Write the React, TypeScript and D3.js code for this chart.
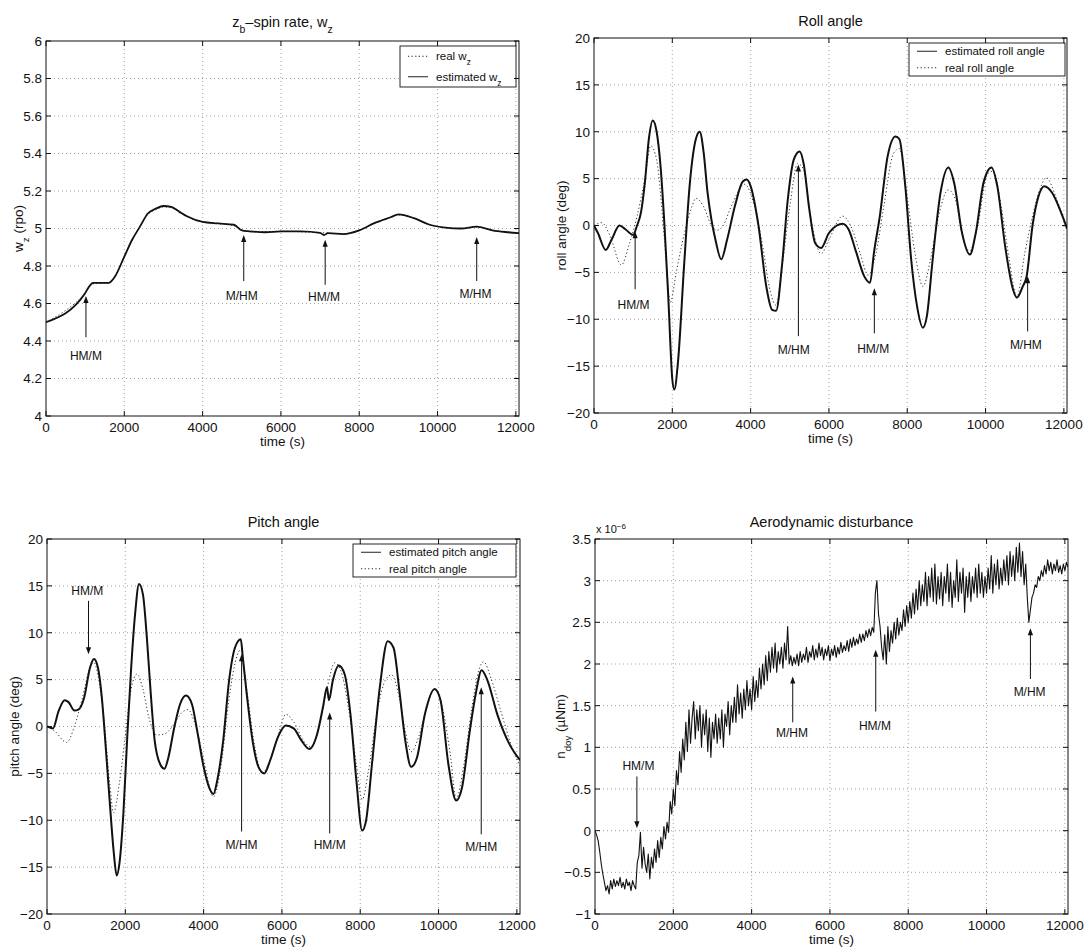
import React from "react";
import * as d3 from "d3";

// ---- data ----
const xTickVals = [0, 2000, 4000, 6000, 8000, 10000, 12000];
const XMAX = 12080;

// z_b spin rate (rpo)
const wzEstT = [0, 1000, 1100, 1200, 1600, 1750, 2000, 2200, 2400, 2600, 2800, 3000, 3200, 3400, 3600, 4000, 4400, 4800, 5000, 5200, 5600, 6000, 6500, 7000, 7100, 7200, 7600, 8000, 8400, 8800, 9000, 9400, 9800, 10200, 10600, 11000, 11400, 11800, 12080];
const wzEst = [4.50, 4.655, 4.69, 4.71, 4.71, 4.74, 4.85, 4.94, 5.01, 5.08, 5.105, 5.12, 5.115, 5.09, 5.065, 5.035, 5.027, 5.02, 4.99, 4.985, 4.98, 4.985, 4.985, 4.977, 4.965, 4.975, 4.97, 4.99, 5.03, 5.06, 5.075, 5.055, 5.02, 5.005, 5.0, 5.01, 4.99, 4.98, 4.975];
const wzRealT = [0, 1000, 1200, 1600, 1800, 2000, 2200, 2400, 2600, 2800, 3000, 3200, 3400, 3600, 4000, 4400, 4800, 5000, 5300, 6000, 7000, 7600, 8000, 8400, 8800, 9000, 9400, 9800, 10200, 10600, 11000, 11400, 11800, 12080];
const wzReal = [4.50, 4.655, 4.705, 4.71, 4.76, 4.85, 4.94, 5.01, 5.075, 5.10, 5.115, 5.11, 5.09, 5.065, 5.035, 5.027, 5.015, 4.992, 4.982, 4.985, 4.978, 4.972, 4.99, 5.03, 5.06, 5.072, 5.055, 5.02, 5.005, 5.0, 5.008, 4.99, 4.98, 4.975];
const wzTicks = [4, 4.2, 4.4, 4.6, 4.8, 5, 5.2, 5.4, 5.6, 5.8, 6];

// roll angle (deg)
const rollT = [0, 100, 300, 450, 650, 800, 1000, 1100, 1200, 1300, 1400, 1500, 1600, 1700, 1800, 1900, 2000, 2050, 2150, 2300, 2450, 2600, 2700, 2800, 2900, 3000, 3100, 3250, 3400, 3600, 3800, 3900, 4000, 4200, 4400, 4550, 4650, 4800, 4950, 5100, 5250, 5350, 5500, 5650, 5800, 6000, 6200, 6350, 6500, 6700, 6900, 7050, 7150, 7300, 7500, 7700, 7800, 7950, 8100, 8250, 8400, 8500, 8650, 8850, 9050, 9200, 9400, 9600, 9750, 9950, 10150, 10300, 10500, 10700, 10800, 10950, 11050, 11200, 11350, 11500, 11700, 11900, 12080];
const rollEst = [0, -0.8, -2.6, -1.5, 0, -0.4, -1.0, 0, 1.4, 4.6, 9.2, 11.2, 10, 6.3, 0, -7.9, -16.4, -17.5, -14.3, -4.3, 4.6, 9.2, 10, 7.8, 3.5, 0.6, -1.5, -3.6, -1.5, 2.1, 4.7, 4.9, 4.2, 0, -6.5, -9.0, -9.1, -4.3, 2.8, 7, 7.9, 6.7, 1.7, -1.9, -2.4, -0.8, 0, 0.2, -0.4, -2.9, -5.4, -6.1, -2.9, 1.0, 7.4, 9.5, 9.2, 4.2, -3.6, -8.6, -10.9, -9.7, -3.6, 3.5, 6.2, 4.5, -0.8, -3.1, -0.8, 4.6, 6.2, 4.2, -2.2, -6.8, -7.7, -6.5, -5.4, 0, 3.1, 4.2, 3.5, 1.7, -0.3];
const rollRealT = [0, 200, 400, 700, 900, 1100, 1300, 1450, 1600, 1800, 1950, 2100, 2300, 2500, 2600, 2800, 3000, 3150, 3300, 3500, 3850, 4100, 4300, 4500, 4650, 4800, 5000, 5200, 5350, 5550, 5800, 6000, 6350, 6550, 6800, 7000, 7200, 7400, 7650, 7800, 8000, 8200, 8400, 8600, 8800, 9050, 9250, 9400, 9600, 9800, 10050, 10200, 10400, 10600, 10800, 11000, 11200, 11400, 11550, 11800, 12080];
const rollReal = [0, 0.3, -1, -4.2, -2, 1, 5, 8.5, 7, -1.5, -8.2, -5, -1, 2, 2.9, 2, 0, -0.5, 0, 2, 4.4, 2, -2, -7, -8.5, -4.5, 2, 6.6, 6, 0.5, -3.0, -1.5, 1.0, 0, -3, -5.3, -3, 2, 7.7, 8.2, 3, -3, -6.5, -3.5, 1, 3.8, 2.5, -1, -2.7, 0, 5.5, 5.8, 2, -3.5, -7.6, -3, 1, 4, 5.1, 3, -0.5];
const angleTicks = [-20, -15, -10, -5, 0, 5, 10, 15, 20];

// pitch angle (deg)
const pitchT = [0, 150, 300, 450, 550, 700, 800, 950, 1100, 1200, 1300, 1400, 1500, 1600, 1700, 1780, 1850, 1950, 2050, 2150, 2250, 2350, 2450, 2550, 2650, 2750, 2900, 3000, 3100, 3250, 3400, 3550, 3700, 3850, 4000, 4150, 4250, 4350, 4500, 4650, 4800, 4950, 5000, 5100, 5250, 5400, 5550, 5700, 5900, 6100, 6300, 6500, 6700, 6900, 7050, 7150, 7200, 7300, 7450, 7600, 7750, 7900, 8050, 8150, 8300, 8500, 8700, 8850, 9000, 9150, 9300, 9450, 9650, 9900, 10050, 10250, 10450, 10600, 10800, 10950, 11100, 11250, 11500, 11800, 12080];
const pitchEst = [0, -0.2, 1.7, 2.8, 2.6, 1.7, 1.8, 3.1, 6.3, 7.2, 6.3, 3.1, -2.2, -7.9, -13.2, -15.9, -14.6, -9.3, -1.1, 6.3, 12, 15.2, 14.1, 9.5, 3.5, -1.5, -4.1, -4.5, -3.3, -0.1, 2.4, 3.3, 2.4, -0.8, -4.3, -6.6, -7.2, -5.7, -1.5, 4.9, 8.4, 9.3, 7.4, 3.5, -1.5, -4.3, -5, -3.6, -1.1, 0.1, -0.2, -1.5, -2.4, -0.8, 2.1, 4.2, 2.8, 4.9, 6.5, 5.6, 1.3, -5.7, -11.1, -10, -4, 4.2, 9.1, 8.4, 3.8, -1.5, -4.3, -3.3, 1.3, 4, 2.8, -4, -7.9, -6.5, -0.4, 3.5, 6, 4.9, 1.3, -1.8, -3.6];
const pitchRealT = [0, 200, 500, 700, 900, 1100, 1200, 1300, 1450, 1600, 1700, 1850, 2000, 2150, 2300, 2450, 2600, 2800, 3000, 3200, 3450, 3600, 3800, 4000, 4250, 4450, 4650, 4850, 4950, 5100, 5300, 5500, 5700, 5900, 6100, 6300, 6550, 6750, 6950, 7150, 7350, 7500, 7700, 7900, 8050, 8200, 8450, 8650, 8800, 9000, 9150, 9300, 9500, 9700, 9900, 10100, 10300, 10450, 10650, 10850, 11050, 11150, 11350, 11600, 11900, 12080];
const pitchReal = [0, -0.5, -1.7, 0, 3, 6.3, 6.8, 5.5, 1, -6, -9.2, -6, -1, 4, 5.6, 4, 1, -0.9, -0.8, 0, 1.5, 1.8, 0, -3.5, -7.5, -4, 3, 7.5, 8.2, 4, -2, -5, -3.5, -1, 1.3, 0.5, -1.5, -2.2, 0, 4, 6.8, 6, 2, -4, -7.8, -5, 2, 5, 5.5, 3, -0.5, -2.7, -1, 2, 4, 2, -3, -7.7, -4, 2, 6.3, 6.9, 5, 1.5, -2.5, -4.2];

// aerodynamic disturbance (x 1e-6 Nm), sampled every 40 s
const AERO_STEP = 40;
const aeroVals = [
  0.00, -0.05, -0.12, -0.25, -0.40, -0.52, -0.62, -0.72, -0.66, -0.76,
  -0.60, -0.70, -0.58, -0.67, -0.60, -0.66, -0.56, -0.68, -0.62, -0.70,
  -0.58, -0.66, -0.62, -0.72, -0.60, -0.66, -0.70, -0.38, -0.30, -0.02,
  -0.45, -0.20, -0.40, -0.50, -0.28, -0.58, -0.32, -0.45, -0.22, -0.38,
  -0.12, -0.32, -0.08, -0.22, 0.05, -0.10, 0.10, -0.02, 0.35, 0.20,
  0.50, 0.30, 0.72, 0.55, 0.95, 0.70, 1.10, 0.85, 1.30, 0.95,
  1.45, 1.05, 1.35, 1.55, 1.10, 1.45, 1.20, 1.50, 1.00, 1.40,
  1.15, 1.45, 0.95, 1.35, 0.88, 1.30, 1.10, 1.40, 1.05, 1.35,
  1.10, 1.45, 1.00, 1.40, 1.25, 1.55, 1.15, 1.50, 1.30, 1.60,
  1.30, 1.75, 1.40, 1.65, 1.35, 1.70, 1.45, 1.80, 1.50, 1.70,
  1.45, 1.85, 1.55, 1.80, 1.60, 1.95, 1.70, 2.00, 1.75, 2.10,
  1.80, 2.15, 1.90, 2.20, 1.95, 2.25, 1.90, 2.15, 2.00, 2.20,
  1.95, 2.25, 2.05, 2.45, 2.00, 2.10, 1.98, 2.08, 2.00, 2.12,
  1.98, 2.15, 2.02, 2.12, 2.05, 2.20, 2.02, 2.15, 2.08, 2.22,
  2.05, 2.18, 2.08, 2.25, 2.10, 2.20, 2.05, 2.18, 2.10, 2.22,
  2.04, 2.18, 2.10, 2.22, 2.08, 2.20, 2.12, 2.26, 2.14, 2.22,
  2.16, 2.28, 2.15, 2.30, 2.20, 2.32, 2.22, 2.30, 2.24, 2.36,
  2.26, 2.36, 2.28, 2.40, 2.32, 2.42, 2.34, 2.44, 2.38, 2.85,
  3.00, 2.60, 2.45, 2.20, 2.05, 2.35, 2.00, 2.45, 2.15, 2.40,
  2.25, 2.50, 2.30, 2.55, 2.35, 2.50, 2.40, 2.65, 2.45, 2.70,
  2.50, 2.75, 2.55, 2.85, 2.60, 2.90, 2.65, 3.00, 2.70, 2.95,
  2.75, 3.10, 2.70, 3.05, 2.80, 3.15, 2.75, 3.20, 2.72, 3.05,
  2.78, 3.10, 2.70, 3.05, 2.85, 3.20, 2.75, 3.10, 2.68, 3.00,
  2.80, 3.25, 2.75, 3.10, 2.85, 3.15, 2.62, 3.05, 2.80, 3.10,
  2.75, 3.05, 2.85, 3.15, 2.80, 3.20, 2.85, 3.10, 2.80, 3.05,
  2.85, 3.15, 2.90, 3.30, 2.85, 3.20, 2.95, 3.25, 2.90, 3.15,
  2.95, 3.25, 3.00, 3.30, 2.95, 3.35, 3.05, 3.30, 3.00, 3.40,
  3.10, 3.45, 3.05, 3.35, 2.95, 3.20, 2.80, 2.50, 2.65, 2.80,
  2.85, 2.95, 2.92, 3.05, 3.00, 3.12, 3.05, 3.18, 3.08, 3.25,
  3.12, 3.22, 3.08, 3.20, 3.12, 3.25, 3.10, 3.18, 3.08, 3.20,
  3.12, 3.22, 3.16,
];
const aeroT = aeroVals.map((_, i) => i * AERO_STEP);
const aeroTicks = [-1, -0.5, 0, 0.5, 1, 1.5, 2, 2.5, 3, 3.5];

// ---- drawing ----
const FONT = "'Liberation Sans', Arial, Helvetica, sans-serif";
const fmt = d3.format("~g");

type Series = { t: number[]; v: number[]; dotted?: boolean; width?: number; linear?: boolean };
type Arrow = { x: number; from: number; to: number; label: string; ly: number; lx?: number };
type Legend = { x0: number; y0: number; x1: number; y1: number; rows: { dotted: boolean; label: React.ReactNode }[] };

type PanelProps = {
  id: string;
  box: [number, number, number, number];
  yDomain: [number, number];
  yTicks: number[];
  title: React.ReactNode;
  titleDy?: number;
  ylabel: React.ReactNode;
  ylabelX: number;
  series: Series[];
  arrows: Arrow[];
  legend?: Legend;
  exponent?: boolean;
};

const Panel = (p: PanelProps) => {
  const [x0, y0, x1, y1] = p.box;
  const x = d3.scaleLinear().domain([0, XMAX]).range([x0, x1]);
  const y = d3.scaleLinear().domain(p.yDomain).range([y1, y0]);
  const tk = 5;

  return (
    <g fontFamily={FONT}>
      <defs>
        <clipPath id={`clip-${p.id}`}>
          <rect x={x0} y={y0} width={x1 - x0} height={y1 - y0} />
        </clipPath>
      </defs>

      {/* grid */}
      <g stroke="#8a8a8a" strokeWidth={0.8} strokeDasharray="1,3">
        {xTickVals.filter(d => d > 0).map(d => (
          <line key={"gx" + d} x1={x(d)} x2={x(d)} y1={y0} y2={y1} />
        ))}
        {p.yTicks.filter(d => d > p.yDomain[0] && d < p.yDomain[1]).map(d => (
          <line key={"gy" + d} x1={x0} x2={x1} y1={y(d)} y2={y(d)} />
        ))}
      </g>

      {/* curves */}
      <g clipPath={`url(#clip-${p.id})`}>
        {p.series.map((s, i) => {
          const pts = s.t.map((t, j) => [t, s.v[j]] as [number, number]);
          const line = d3.line<[number, number]>()
            .x(d => x(d[0]))
            .y(d => y(d[1]))
            .curve(s.linear ? d3.curveLinear : d3.curveMonotoneX);
          return (
            <path key={i} d={line(pts) || ""} fill="none"
              stroke={s.dotted ? "#333" : "#111"}
              strokeWidth={s.width ?? 1}
              strokeDasharray={s.dotted ? "1.2,2.4" : undefined}
              strokeLinejoin="round" />
          );
        })}
      </g>

      {/* arrows */}
      {p.arrows.map((a, i) => {
        const ax = x(a.x), yf = y(a.from), yt = y(a.to);
        const dir = yt < yf ? 1 : -1; // 1 = pointing up
        const hl = 7, hw = 2.6;
        return (
          <g key={"a" + i}>
            <line x1={ax} x2={ax} y1={yf} y2={yt + dir * hl * 0.6} stroke="#111" strokeWidth={1} />
            <polygon points={`${ax},${yt} ${ax - hw},${yt + dir * hl} ${ax + hw},${yt + dir * hl}`} fill="#111" />
            <text x={x(a.lx ?? a.x)} y={y(a.ly)} dy="0.36em" textAnchor="middle" fontSize={12} fill="#111">{a.label}</text>
          </g>
        );
      })}

      {/* legend */}
      {p.legend && (
        <g>
          <rect x={p.legend.x0} y={p.legend.y0} width={p.legend.x1 - p.legend.x0} height={p.legend.y1 - p.legend.y0}
            fill="#fff" stroke="#111" strokeWidth={0.9} />
          {p.legend.rows.map((r, i) => {
            const n = p.legend!.rows.length;
            const h = (p.legend!.y1 - p.legend!.y0) / n;
            const cy = p.legend!.y0 + h * (i + 0.5);
            const lx = p.legend!.x0 + 8;
            return (
              <g key={i}>
                <line x1={lx} x2={lx + 20} y1={cy} y2={cy} stroke="#222" strokeWidth={1}
                  strokeDasharray={r.dotted ? "1.2,2.4" : undefined} />
                <text x={lx + 28} y={cy} dy="0.35em" fontSize={11.5} fill="#111">{r.label}</text>
              </g>
            );
          })}
        </g>
      )}

      {/* box + ticks */}
      <rect x={x0} y={y0} width={x1 - x0} height={y1 - y0} fill="none" stroke="#111" strokeWidth={1} />
      <g stroke="#111" strokeWidth={1}>
        {xTickVals.map(d => (
          <g key={"tx" + d}>
            <line x1={x(d)} x2={x(d)} y1={y1} y2={y1 - tk} />
            <line x1={x(d)} x2={x(d)} y1={y0} y2={y0 + tk} />
          </g>
        ))}
        {p.yTicks.map(d => (
          <g key={"ty" + d}>
            <line x1={x0} x2={x0 + tk} y1={y(d)} y2={y(d)} />
            <line x1={x1} x2={x1 - tk} y1={y(d)} y2={y(d)} />
          </g>
        ))}
      </g>

      {/* tick labels */}
      <g fontSize={13.5} fill="#111">
        {xTickVals.map(d => (
          <text key={"lx" + d} x={x(d)} y={y1 + 16} textAnchor="middle">{d}</text>
        ))}
        {p.yTicks.map(d => (
          <text key={"ly" + d} x={x0 - 4} y={y(d)} dy="0.36em" textAnchor="end">{fmt(d)}</text>
        ))}
      </g>

      {p.exponent && (
        <text x={x0 + 1} y={y0 - 6} fontSize={11} fill="#111">
          x 10<tspan baselineShift="super" fontSize={8}>−6</tspan>
        </text>
      )}

      {/* labels */}
      <text x={(x0 + x1) / 2} y={y0 - 12 - (p.titleDy ?? 0)} textAnchor="middle" fontSize={14.5} fill="#111">{p.title}</text>
      <text x={(x0 + x1) / 2} y={y1 + 30} textAnchor="middle" fontSize={13.5} fill="#111">time (s)</text>
      <text transform={`translate(${p.ylabelX},${(y0 + y1) / 2}) rotate(-90)`} textAnchor="middle" fontSize={13.5} fill="#111">{p.ylabel}</text>
    </g>
  );
};

const Sub = ({ children }: { children: React.ReactNode }) => (
  <tspan baselineShift="sub" fontSize="0.72em">{children}</tspan>
);

export default function App() {
  return (
    <div style={{ position: "absolute", left: 0, top: 0 }}>
      <svg width={1089} height={952} style={{ display: "block", background: "#fff" }}>
        <Panel
          id="wz"
          box={[46, 41, 519, 416]}
          yDomain={[4, 6]}
          yTicks={wzTicks}
          title={<>z<Sub>b</Sub>–spin rate, w<Sub>z</Sub></>}
          titleDy={2}
          ylabel={<>w<Sub>z</Sub> (rpo)</>}
          ylabelX={23}
          series={[
            { t: wzRealT, v: wzReal, dotted: true },
            { t: wzEstT, v: wzEst, width: 1.8 },
          ]}
          arrows={[
            { x: 1020, from: 4.42, to: 4.64, label: "HM/M", ly: 4.32 },
            { x: 5050, from: 4.72, to: 4.965, label: "M/HM", ly: 4.64, lx: 5000 },
            { x: 7130, from: 4.70, to: 4.94, label: "HM/M", ly: 4.637, lx: 7100 },
            { x: 11000, from: 4.72, to: 4.955, label: "M/HM", ly: 4.654, lx: 10970 },
          ]}
          legend={{
            x0: 400, y0: 46, x1: 516, y1: 87,
            rows: [
              { dotted: true, label: <>real w<Sub>z</Sub></> },
              { dotted: false, label: <>estimated w<Sub>z</Sub></> },
            ],
          }}
        />
        <Panel
          id="roll"
          box={[594, 38, 1067, 413]}
          yDomain={[-20, 20]}
          yTicks={angleTicks}
          title="Roll angle"
          ylabel="roll angle (deg)"
          ylabelX={566}
          series={[
            { t: rollRealT, v: rollReal, dotted: true },
            { t: rollT, v: rollEst, width: 2 },
          ]}
          arrows={[
            { x: 1050, from: -6.8, to: -0.6, label: "HM/M", ly: -8.4, lx: 1010 },
            { x: 5220, from: -11.8, to: 6.5, label: "M/HM", ly: -13.2, lx: 5100 },
            { x: 7160, from: -11.5, to: -6.7, label: "HM/M", ly: -13.1, lx: 7130 },
            { x: 11075, from: -11.3, to: -5.4, label: "M/HM", ly: -12.7, lx: 11030 },
          ]}
          legend={{
            x0: 909, y0: 43, x1: 1065, y1: 76,
            rows: [
              { dotted: false, label: "estimated roll angle" },
              { dotted: true, label: "real roll angle" },
            ],
          }}
        />
        <Panel
          id="pitch"
          box={[47, 539, 520, 914]}
          yDomain={[-20, 20]}
          yTicks={angleTicks}
          title="Pitch angle"
          ylabel="pitch angle (deg)"
          ylabelX={19}
          series={[
            { t: pitchRealT, v: pitchReal, dotted: true },
            { t: pitchT, v: pitchEst, width: 2 },
          ]}
          arrows={[
            { x: 1060, from: 13.4, to: 7.7, label: "HM/M", ly: 14.5, lx: 1030 },
            { x: 4970, from: -11.2, to: 7.7, label: "M/HM", ly: -12.6 },
            { x: 7220, from: -11.4, to: 1.5, label: "HM/M", ly: -12.6 },
            { x: 11090, from: -11.5, to: 4.2, label: "M/HM", ly: -12.8 },
          ]}
          legend={{
            x0: 353, y0: 544, x1: 516, y1: 577,
            rows: [
              { dotted: false, label: "estimated pitch angle" },
              { dotted: true, label: "real pitch angle" },
            ],
          }}
        />
        <Panel
          id="aero"
          box={[595, 539, 1068, 914]}
          yDomain={[-1, 3.5]}
          yTicks={aeroTicks}
          title="Aerodynamic disturbance"
          ylabel={<>n<Sub>doy</Sub> (µNm)</>}
          ylabelX={565}
          exponent
          series={[{ t: aeroT, v: aeroVals, width: 1.1, linear: true }]}
          arrows={[
            { x: 1070, from: 0.65, to: 0.03, label: "HM/M", ly: 0.78, lx: 1110 },
            { x: 5050, from: 1.3, to: 1.85, label: "M/HM", ly: 1.18, lx: 5030 },
            { x: 7170, from: 1.43, to: 2.17, label: "HM/M", ly: 1.26, lx: 7150 },
            { x: 11120, from: 1.82, to: 2.43, label: "M/HM", ly: 1.67, lx: 11100 },
          ]}
        />
      </svg>
    </div>
  );
}
